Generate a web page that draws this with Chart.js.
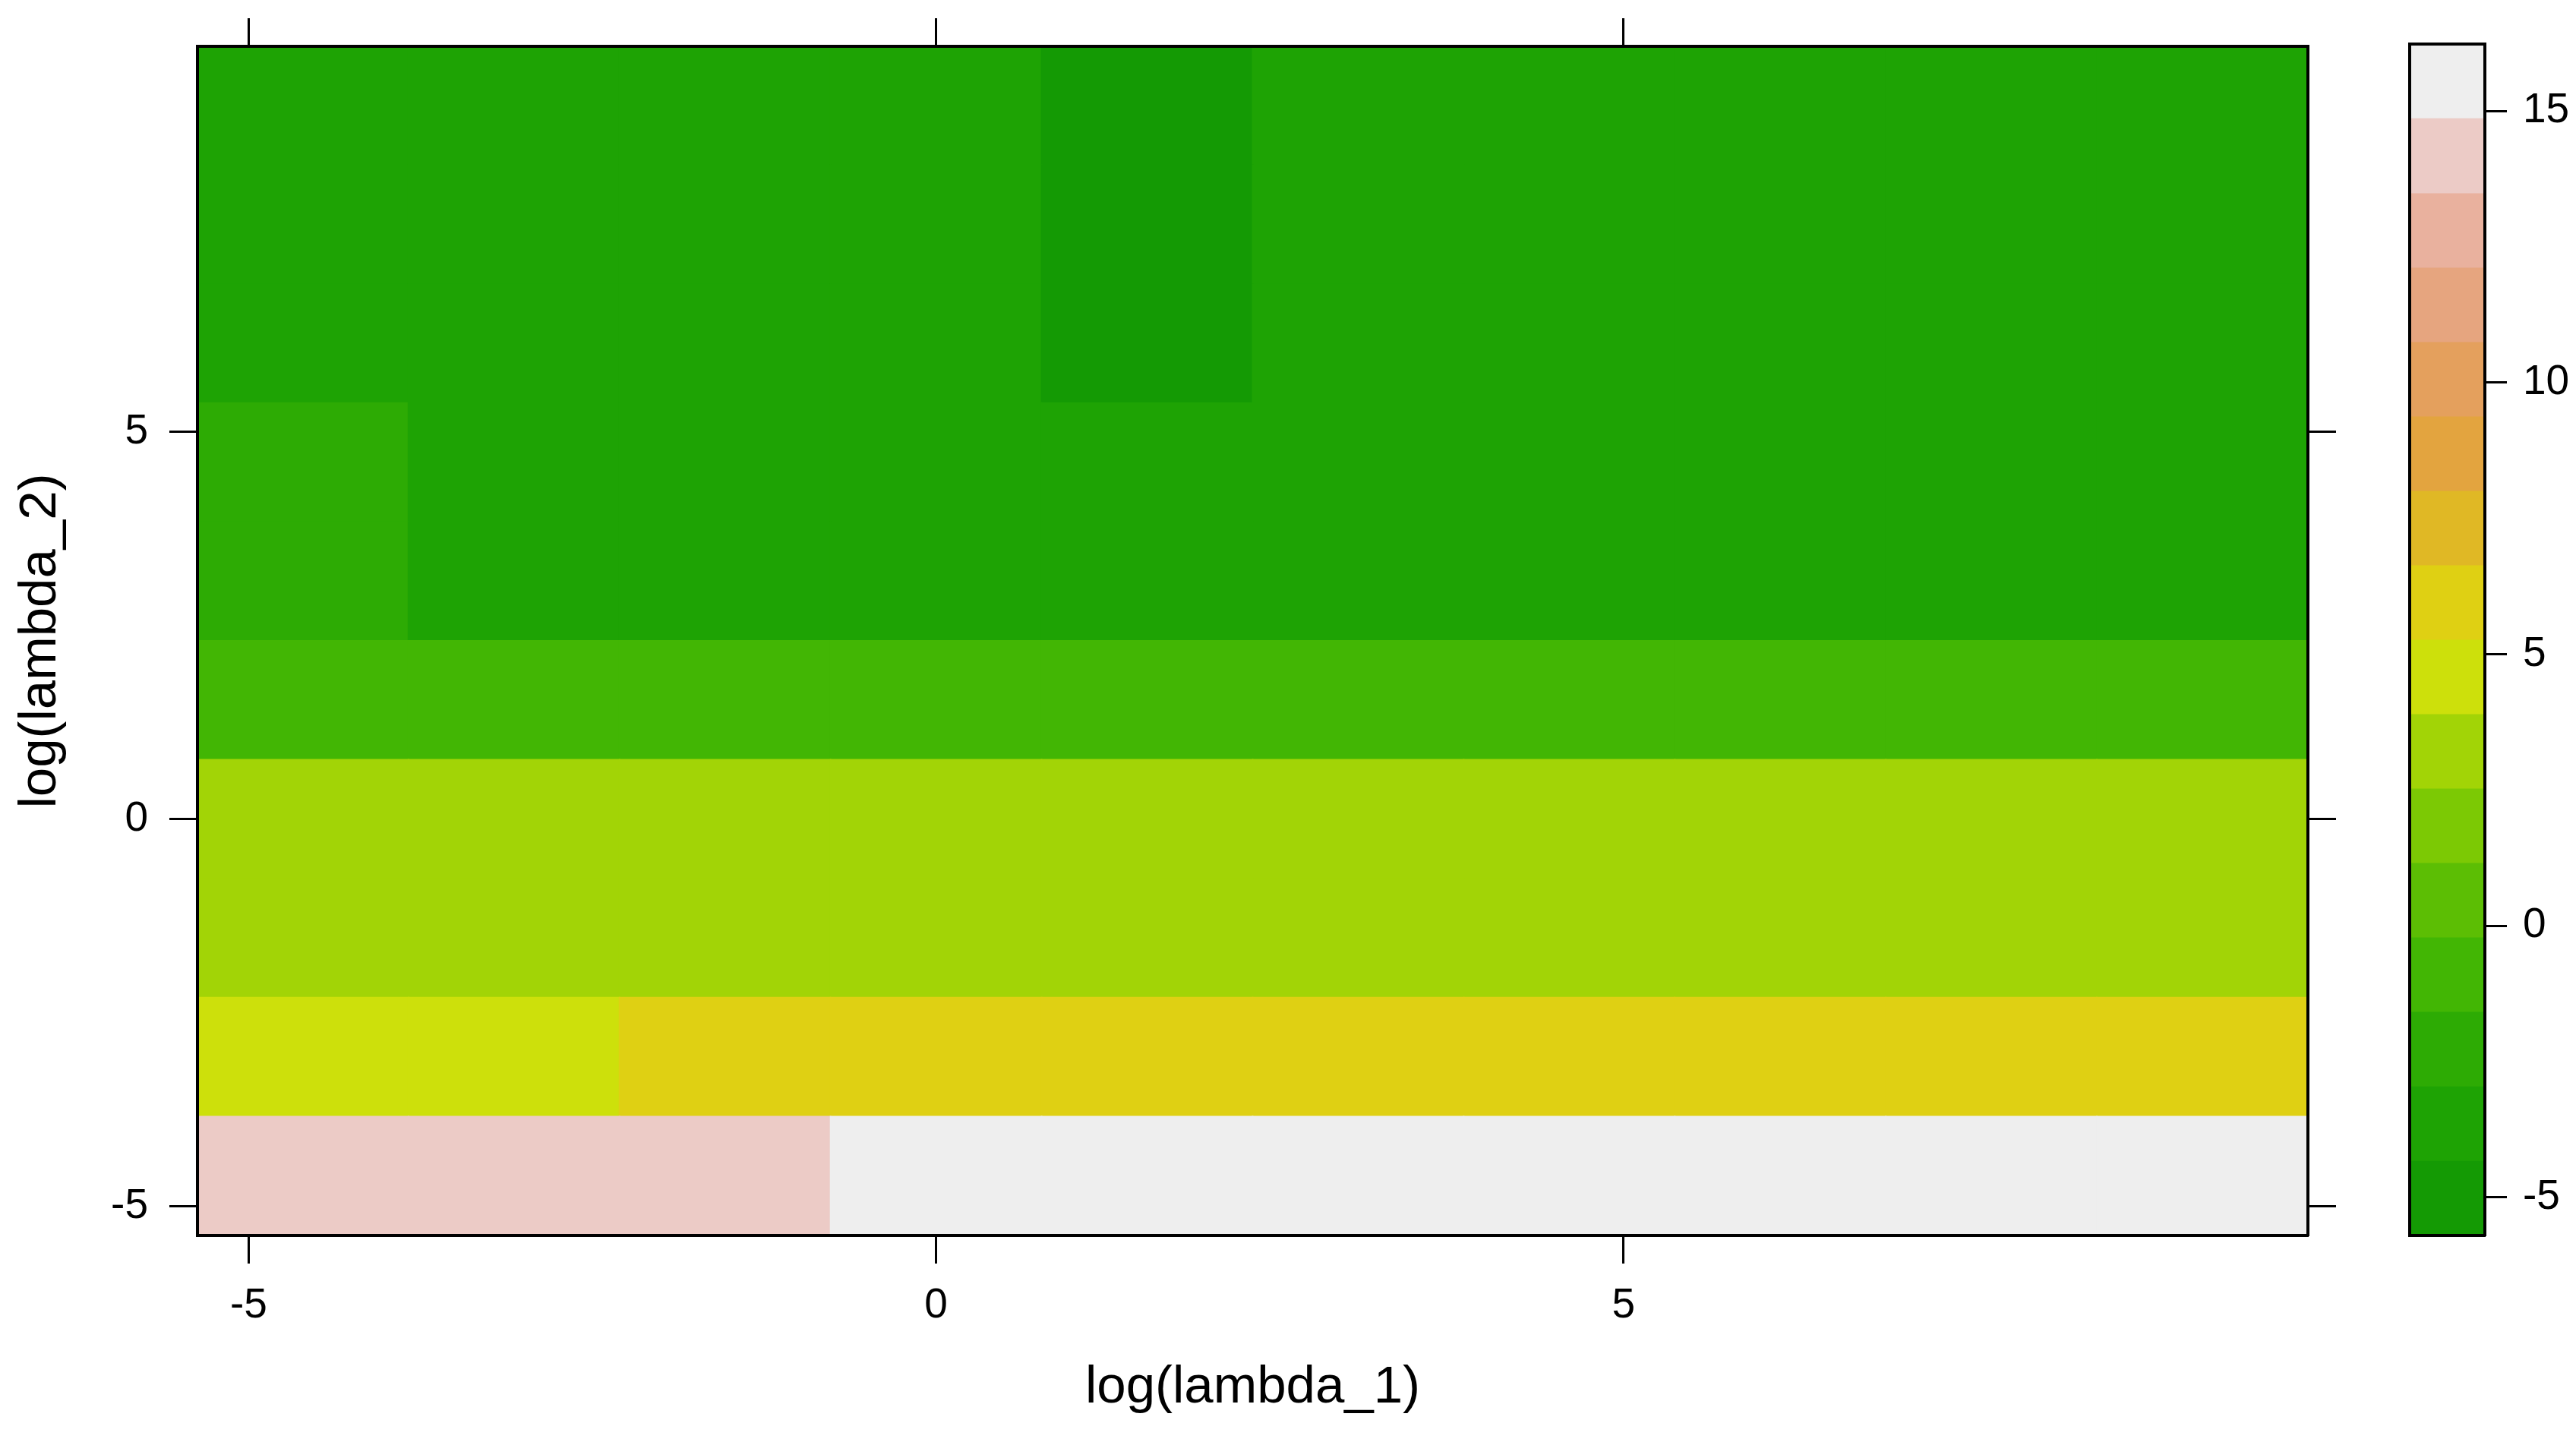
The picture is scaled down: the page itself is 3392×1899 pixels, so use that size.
<!DOCTYPE html>
<html>
<head>
<meta charset="utf-8">
<title>levelplot log(lambda_1) x log(lambda_2)</title>
<script src="https://cdn.jsdelivr.net/npm/chart.js@4/dist/chart.umd.min.js"></script>
<style>
  html, body { margin: 0; padding: 0; background: #ffffff; }
  body { width: 3392px; height: 1899px; position: relative; overflow: hidden; }
  #mainChart { position: absolute; left: 0; top: 0; }
  #keyChart { position: absolute; left: 3100px; top: 0; }
</style>
</head>
<body>
<canvas id="mainChart" width="3100" height="1899"></canvas>
<canvas id="keyChart" width="292" height="1899"></canvas>
<script>
// lambda grid (same for both parameters)
const lambda1 = [0.01, 0.0464, 0.2154, 1, 4.642, 21.54, 100, 464.2, 2154, 10000];
const lambda2 = [0.01, 0.0464, 0.2154, 1, 4.642, 21.54, 100, 464.2, 2154, 10000];

// z values: one row per lambda_2 (bottom -> top), one entry per lambda_1
const zRow01 = [14.2, 14.2, 14.2, 16.0, 16.0, 16.0, 16.0, 16.0, 16.0, 16.0];
const zRow02 = [4.6, 4.6, 5.9, 5.9, 5.9, 5.9, 5.9, 5.9, 5.9, 5.9];
const zRow03 = [3.2, 3.2, 3.2, 3.2, 3.2, 3.2, 3.2, 3.2, 3.2, 3.2];
const zRow04 = [3.0, 3.0, 3.0, 3.0, 3.0, 3.0, 3.0, 3.0, 3.0, 3.0];
const zRow05 = [-0.9, -0.9, -0.9, -0.9, -0.9, -0.9, -0.9, -0.9, -0.9, -0.9];
const zRow06 = [-2.3, -3.6, -3.6, -3.6, -3.6, -3.6, -3.6, -3.6, -3.6, -3.6];
const zRow07 = [-2.4, -3.7, -3.7, -3.7, -3.7, -3.7, -3.7, -3.7, -3.7, -3.7];
const zRow08 = [-3.8, -3.8, -3.8, -3.8, -5.0, -3.8, -3.8, -3.8, -3.8, -3.8];
const zRow09 = [-3.8, -3.8, -3.8, -3.8, -5.1, -3.8, -3.8, -3.8, -3.8, -3.8];
const zRow10 = [-3.9, -3.9, -3.9, -3.9, -5.1, -3.9, -3.9, -3.9, -3.9, -3.9];
const zRows = [zRow01, zRow02, zRow03, zRow04, zRow05, zRow06, zRow07, zRow08, zRow09, zRow10];

// color key: 17 break points, 16 colors (bottom -> top)
const keyBreaks = [-5.70, -4.33, -2.96, -1.59, -0.22, 1.15, 2.52, 3.89, 5.26,
                   6.63, 8.00, 9.37, 10.74, 12.11, 13.48, 14.86, 16.23];
const keyColors = ['#149A04', '#1EA304', '#2DAB04', '#42B604', '#5CBE04', '#7CC904',
                   '#A2D406', '#CDE00B', '#DFD013', '#E0B825', '#E3A43F', '#E4A05D',
                   '#E6A57F', '#E9B19E', '#ECCBC6', '#EEEEEE'];

// tick labels
const xTickValues = [-5, 0, 5];
const yTickValues = [-5, 0, 5];
const keyTickValues = [-5, 0, 5, 10, 15];

const xTitle = 'log(lambda_1)';
const yTitle = 'log(lambda_2)';

Chart.defaults.font.family = '"Liberation Sans", Arial, Helvetica, sans-serif';
Chart.defaults.color = '#000000';

const black = '#000000';
const tickFont = { size: 55 };
const titleFont = { size: 69 };

/**
 * colour of the key band a value falls in
 */
const colorFor = function (z) {
    for (let i = 0; i < keyColors.length; i++) {
        if (z >= keyBreaks[i] && z < keyBreaks[i + 1]) {
            return keyColors[i];
        }
    }
    return z < keyBreaks[0] ? keyColors[0] : keyColors[keyColors.length - 1];
};

/**
 * cell edges: midpoints between centres, ends extended by half a step
 */
const cellEdges = function (centers) {
    const n = centers.length;
    const edges = [centers[0] - (centers[1] - centers[0]) / 2];
    for (let i = 0; i < n - 1; i++) {
        edges.push((centers[i] + centers[i + 1]) / 2);
    }
    edges.push(centers[n - 1] + (centers[n - 1] - centers[n - 2]) / 2);
    return edges;
};

const xCenters = lambda1.map(Math.log);
const yCenters = lambda2.map(Math.log);
const xEdges = cellEdges(xCenters);
const yEdges = cellEdges(yCenters);

const setTicks = values => scale => {
    scale.ticks = values.map(v => ({ value: v }));
};

// one floating-bar dataset per lambda_2 row
// inflateAmount 1 so neighbouring cells overlap and no seams show
const cellDatasets = zRows.map((row, r) => ({
    label: 'log(lambda_2) = ' + yCenters[r].toFixed(2),
    data: row.map((z, c) => ({ x: xCenters[c], y: [yEdges[r], yEdges[r + 1]], z: z })),
    backgroundColor: row.map(colorFor),
    borderWidth: 0,
    inflateAmount: 1,
    grouped: false,
    barPercentage: 1,
    categoryPercentage: 1,
}));

const axisBorder = { display: true, color: black, width: 4, z: 1 };
const outerTicks = { drawOnChartArea: false, drawTicks: true, tickLength: 37, tickWidth: 3, tickColor: black, offset: false };

new Chart(document.getElementById('mainChart'), {
    type: 'bar',
    data: { datasets: cellDatasets },
    options: {
        responsive: false,
        animation: false,
        events: [],
        layout: { padding: 0 },
        plugins: {
            legend: { display: false },
            tooltip: { enabled: false },
        },
        scales: {
            x: {
                type: 'linear',
                position: 'bottom',
                offset: false,
                min: xEdges[0],
                max: xEdges[xEdges.length - 1],
                afterBuildTicks: setTicks(xTickValues),
                ticks: { font: tickFont, color: black, padding: 23, maxRotation: 0, autoSkip: false },
                grid: outerTicks,
                border: axisBorder,
                title: { display: true, text: xTitle, font: titleFont, color: black, padding: { top: 30, bottom: 30 } },
                afterFit: scale => { scale.height = 272; },
            },
            xTop: {
                type: 'linear',
                position: 'top',
                offset: false,
                min: xEdges[0],
                max: xEdges[xEdges.length - 1],
                afterBuildTicks: setTicks(xTickValues),
                ticks: { display: false },
                grid: outerTicks,
                border: axisBorder,
                afterFit: scale => { scale.height = 58; },
            },
            y: {
                type: 'linear',
                position: 'left',
                min: yEdges[0],
                max: yEdges[yEdges.length - 1],
                afterBuildTicks: setTicks(yTickValues),
                ticks: { font: tickFont, color: black, padding: 28 },
                grid: outerTicks,
                border: axisBorder,
                title: { display: true, text: yTitle, font: titleFont, color: black, padding: { top: 13, bottom: 13 } },
                afterFit: scale => { scale.width = 260; },
            },
            yRight: {
                type: 'linear',
                position: 'right',
                min: yEdges[0],
                max: yEdges[yEdges.length - 1],
                afterBuildTicks: setTicks(yTickValues),
                ticks: { display: false },
                grid: outerTicks,
                border: axisBorder,
                afterFit: scale => { scale.width = 61; },
            },
        },
    },
});

// colour key: one floating bar per band
const keyDatasets = keyColors.map((color, i) => ({
    label: keyBreaks[i] + ' to ' + keyBreaks[i + 1],
    data: [[keyBreaks[i], keyBreaks[i + 1]]],
    backgroundColor: color,
    borderWidth: 0,
    grouped: false,
    barPercentage: 1,
    categoryPercentage: 1,
}));

const hiddenAxis = { display: false };

new Chart(document.getElementById('keyChart'), {
    type: 'bar',
    data: { labels: [''], datasets: keyDatasets },
    options: {
        responsive: false,
        animation: false,
        events: [],
        layout: { padding: 0 },
        plugins: {
            legend: { display: false },
            tooltip: { enabled: false },
        },
        scales: {
            x: {
                type: 'category',
                position: 'bottom',
                ticks: hiddenAxis,
                grid: hiddenAxis,
                border: axisBorder,
                afterFit: scale => { scale.height = 272; },
            },
            xTop: {
                type: 'category',
                position: 'top',
                ticks: hiddenAxis,
                grid: hiddenAxis,
                border: axisBorder,
                afterFit: scale => { scale.height = 58; },
            },
            y: {
                type: 'linear',
                position: 'left',
                min: keyBreaks[0],
                max: keyBreaks[keyBreaks.length - 1],
                ticks: hiddenAxis,
                grid: hiddenAxis,
                border: axisBorder,
                afterFit: scale => { scale.width = 73; },
            },
            yKey: {
                type: 'linear',
                position: 'right',
                min: keyBreaks[0],
                max: keyBreaks[keyBreaks.length - 1],
                afterBuildTicks: setTicks(keyTickValues),
                ticks: { font: tickFont, color: black, padding: 21 },
                grid: { drawOnChartArea: false, drawTicks: true, tickLength: 29, tickWidth: 3, tickColor: black },
                border: axisBorder,
                afterFit: scale => { scale.width = 120; },
            },
        },
    },
});
</script>
</body>
</html>
